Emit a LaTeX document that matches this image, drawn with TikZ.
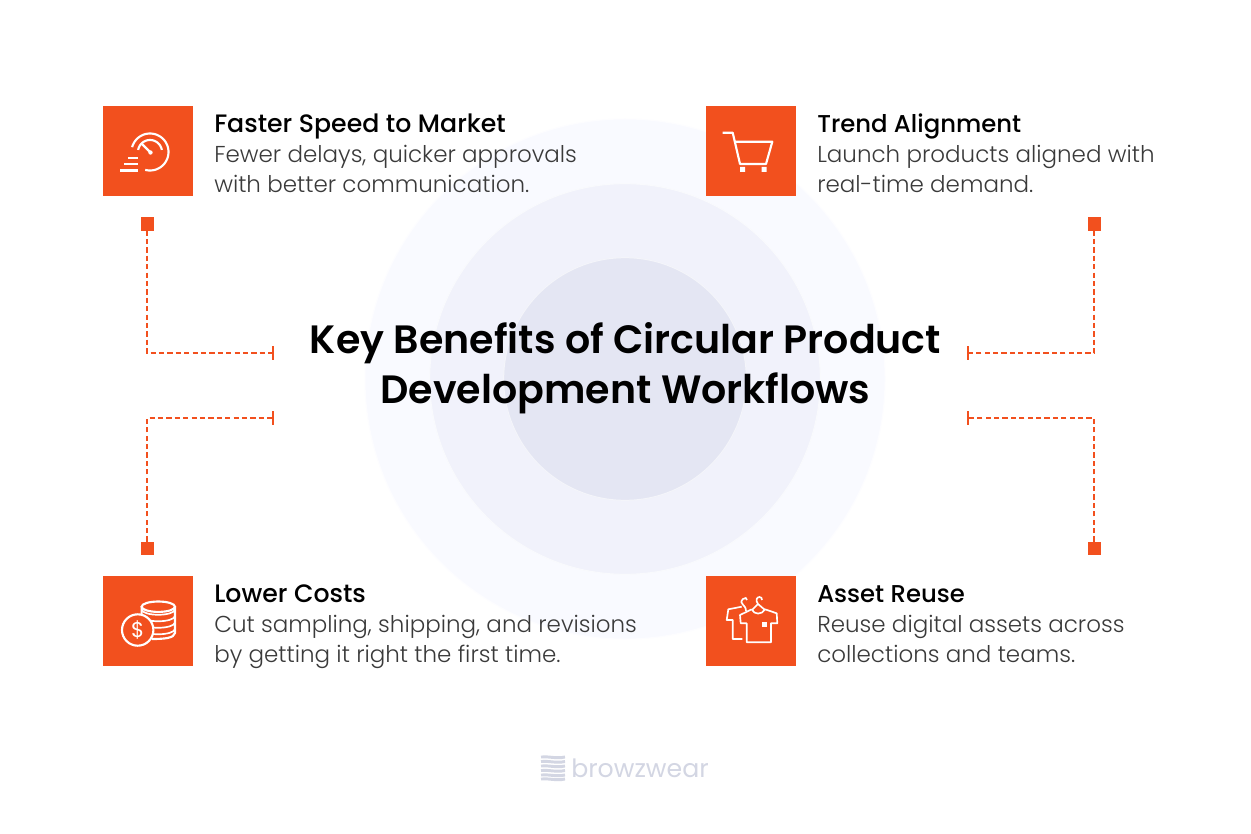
\documentclass[tikz,border=0pt]{standalone}
\usepackage{fontspec}
\setmainfont{Poppins}
\newfontfamily\medfont{Poppins Medium}
\newfontfamily\semifont{Poppins SemiBold}
\newfontfamily\lightfont{Poppins Light}
\definecolor{brandorange}{HTML}{F2501E}
\definecolor{ringa}{HTML}{F9FAFF}
\definecolor{ringb}{HTML}{F1F2FB}
\definecolor{ringc}{HTML}{E4E6F3}
\definecolor{bodygrey}{HTML}{3A3A3A}
\definecolor{logogrey}{HTML}{D3D6E3}
\tikzset{
  ring/.style={circle,draw=#1!40!white,line width=.75pt,fill=#1,inner sep=0pt},
  tile/.style={fill=brandorange,minimum size=67.5pt,inner sep=0pt,outer sep=0pt},
  pin/.style={fill=brandorange,minimum size=9.75pt,inner sep=0pt,outer sep=0pt},
  tick/.style={fill=brandorange,minimum width=1.5pt,minimum height=10.5pt,inner sep=0pt,outer sep=0pt},
  dashlink/.style={draw=brandorange,dash pattern=on 3.9pt off 2.4pt,line width=#1},
  headtext/.style={anchor=base west,inner sep=0pt,font=\medfont\fontsize{18.9}{20}\selectfont,text=black},
  headsmall/.style={anchor=base west,inner sep=0pt,font=\medfont\fontsize{18.25}{20}\selectfont,text=black},
  bodytext/.style={anchor=base west,inner sep=0pt,font=\lightfont\fontsize{17.25}{20}\selectfont,text=bodygrey},
  titletext/.style={anchor=base,inner sep=0pt,font=\semifont\fontsize{29.65}{34}\selectfont,text=black},
  icon/.style={draw=white,line width=1.6pt,fill=none},
  iconthin/.style={draw=white,line width=1.25pt,fill=none}
}
\begin{document}
\begin{tikzpicture}[x=.75pt,y=-.75pt]
\useasboundingbox (0,0) rectangle (1251,834);
\fill[white] (0,0) rectangle (1251,834);
% rings
\node[ring=ringa,minimum size=390pt] (r1) at (625,379) {};
\node[ring=ringb,minimum size=293pt] (r2) at (625,379) {};
\node[ring=ringc,minimum size=182pt] (r3) at (625,379) {};
% title
\node[titletext] (t1) at (625.5,353) {Key Benefits of Circular Product};
\node[titletext] (t2) at (625.5,403) {Development Workflows};
% tiles
\node[tile] (a) at (148,151) {};
\node[tile] (b) at (751,151) {};
\node[tile] (c) at (148,621) {};
\node[tile] (d) at (751,621) {};
% texts
\node[headtext] (ah) at (214,132.6) {Faster Speed to Market};
\node[bodytext] (a1) at (214,162.6) {Fewer delays, quicker approvals};
\node[bodytext] (a2) at (214,192.4) {with better communication.};
\node[headsmall] (bh) at (817,132.6) {Trend Alignment};
\node[bodytext] (b1) at (817,162.6) {Launch products aligned with};
\node[bodytext] (b2) at (817,192.4) {real-time demand.};
\node[headtext] (ch) at (214,602) {Lower Costs};
\node[bodytext] (c1) at (214,632) {Cut sampling, shipping, and revisions};
\node[bodytext] (c2) at (214,662) {by getting it right the first time.};
\node[headsmall] (dh) at (817,602) {Asset Reuse};
\node[bodytext] (d1) at (817,632) {Reuse digital assets across};
\node[bodytext] (d2) at (817,662) {collections and teams.};
% connectors
\node[pin] (p1) at (147,224) {};
\node[pin] (p2) at (1094,224) {};
\node[pin] (p3) at (147,548) {};
\node[pin] (p4) at (1094,548) {};
\node[tick] (k1) at (273,353) {};
\node[tick] (k2) at (968,353) {};
\node[tick] (k3) at (273,418) {};
\node[tick] (k4) at (968,418) {};
\draw[dashlink=1.35pt] (p1) |- (k1);
\draw[dashlink=1.35pt] (p2) |- (k2);
\draw[dashlink=1pt] (p3) |- (k3);
\draw[dashlink=1pt] (p4) |- (k4);
% speedometer
\draw[icon] plot[domain=-105:165,samples=50] ({150+18.5*cos(\x)},{152-18.5*sin(\x)});
\draw[icon] plot[domain=10:170,samples=30] ({150+12*cos(\x)},{152-12*sin(\x)});
\draw[icon] (141,143) -- (150.5,152.5);
\fill[white] (150.5,152.5) circle [radius=2.2];
\draw[icon] (128,158) -- (138,158) (124,164) -- (138,164) (120,170.5) -- (138,170.5);
% cart
\draw[icon,line join=round] (722.7,132.7) -- (732.7,132.7) -- (740,164) -- (766,164) -- (772.3,141.7) -- (735,141.7);
\fill[white] (740.2,167) rectangle +(5,5) (761.5,167) rectangle +(5,5);
% coins
\foreach \yy in {629,622.5,616,609.5}{
  \draw[iconthin] (141.6,\yy) .. controls (143,{\yy+7}) and (173.5,{\yy+7}) .. (175,\yy);
}
\draw[icon] (141.6,606.7) -- (141.6,632) (175,606.7) -- (175,633) .. controls (174,638) and (165,639) .. (152,639);
\draw[icon] (158.3,606.7) ellipse [x radius=16.7,y radius=5.2];
\draw[icon,fill=brandorange] (137.7,630) circle [radius=15.7];
\node[inner sep=0pt,text=white,font=\fontsize{16}{16}\selectfont] (dollar) at (137.7,630) {\$};
% shirts
\draw[iconthin,line join=round] (741.7,606.7) -- (728.3,609.3) -- (726.7,620) -- (732.7,620) -- (732.7,639) -- (742.3,639);
\draw[iconthin,line join=round] (751.7,609.3) -- (740,615) -- (740.7,623.3) -- (746.7,623.3) -- (746.7,642.3) -- (771,642.3) -- (771,623.3) -- (777.3,623.3) -- (776.7,613.3) -- (765,609.3) .. controls (762,615) and (754,615) .. (751.7,609.3);
\draw[iconthin] (746,611) .. controls (746,604) and (738,604) .. (743,599) .. controls (745,597) and (747,598) .. (747,600);
\draw[iconthin] (752,610) -- (758,604) .. controls (755,600) and (757,597) .. (759.5,597) .. controls (761,597) and (762,598) .. (762,600) (758,604) -- (765,610);
\fill[white] (761.5,621.5) rectangle +(5,5);
% logo
\foreach \yy in {757,761.5,766,770.5,775,779}{
  \draw[logogrey,line width=2.2pt] (541,\yy) .. controls (548,{\yy-1}) and (556,{\yy+2}) .. (565,\yy);
}
\node[anchor=base west,inner sep=0pt,text=logogrey,font=\fontsize{18.9}{20}\selectfont] (logo) at (571,777) {browzwear};
\end{tikzpicture}
\end{document}
